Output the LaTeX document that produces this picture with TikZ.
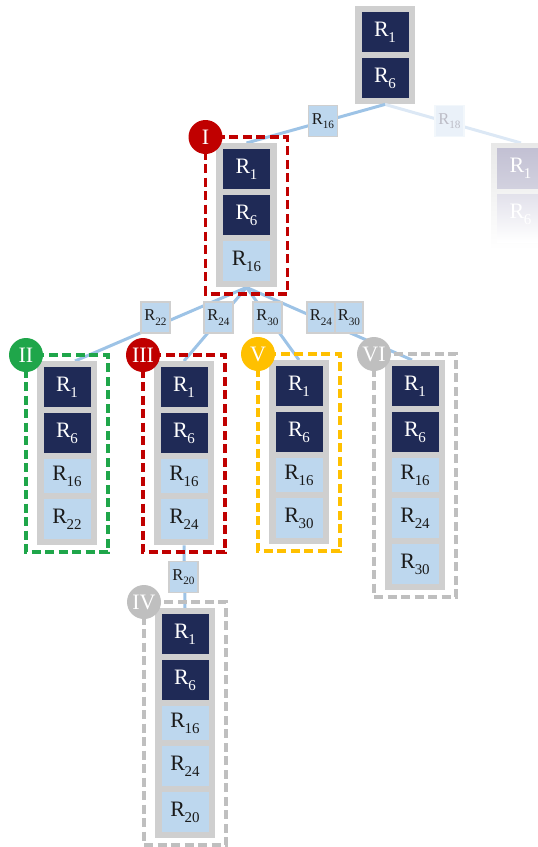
\documentclass[tikz,border=0pt]{standalone}
\usepackage{fontspec}
\setmainfont{Liberation Serif}
\usepackage{graphicx}
\definecolor{navy}{HTML}{1F2A56}
\definecolor{lblue}{HTML}{BDD7EE}
\definecolor{boxgray}{HTML}{CFCFCF}
\definecolor{edgeblue}{HTML}{9DC3E6}
\definecolor{cred}{HTML}{C00000}
\definecolor{cgreen}{HTML}{1FA64A}
\definecolor{cyellow}{HTML}{FFC000}
\definecolor{cgray}{HTML}{BFBFBF}
\definecolor{fadeline}{HTML}{DCE8F5}
\definecolor{fadelab}{HTML}{EAF1F9}
\definecolor{fadetxt}{HTML}{BCBCC6}
\definecolor{fadeA}{HTML}{C2C0D3}
\definecolor{fadeAb}{HTML}{D2D1DF}
\definecolor{fadeB}{HTML}{E2E1EB}
\definecolor{txtdark}{HTML}{1A1A1A}
\newcommand{\Rsub}[1]{R\kern-0.01em\raisebox{-0.27em}{\scalebox{0.68}{#1}}}
\begin{document}
\begin{tikzpicture}[x=1pt,y=-1pt,
  graybox/.style={fill=boxgray, minimum width=60pt, inner sep=0pt, anchor=north},
  cellD/.style={fill=navy, text=white, minimum width=47pt, minimum height=40pt, inner sep=0pt, font=\fontsize{22}{22}\selectfont},
  cellL/.style={fill=lblue, text=txtdark, minimum width=47pt, minimum height=40pt, inner sep=0pt, font=\fontsize{22}{22}\selectfont},
  cellS/.style={cellL, minimum height=34pt},
  elabel/.style={fill=lblue, draw=boxgray, line width=1.2pt, text=txtdark, minimum width=29pt, minimum height=31pt, inner sep=0pt, font=\fontsize{16.5}{16.5}\selectfont},
  edge/.style={draw=edgeblue, line width=3pt},
  dashbox/.style={line width=3.8pt, dash pattern=on 9pt off 4.5pt},
  badge/.style={circle, minimum size=34pt, inner sep=0pt, text=white, font=\fontsize{22}{22}\selectfont}
]
\useasboundingbox (0,0) rectangle (538,847);

% ---------- gray container boxes (nodes, for connectors) ----------
\node[graybox, minimum height=98pt] (g0) at (385,6) {};
\node[graybox, minimum height=144pt] (gI) at (246.5,143) {};
\node[graybox, minimum height=184pt] (gII) at (67,361) {};
\node[graybox, minimum height=184pt] (gIII) at (184,361) {};
\node[graybox, minimum height=184pt] (gV) at (299,360) {};
\node[graybox, minimum height=230pt] (gVI) at (415,360) {};
\node[graybox, minimum height=230pt] (gIV) at (185,608) {};
\coordinate (gfade) at (521,143);

% ---------- connectors ----------
\draw[draw=fadeline, line width=3pt] (g0.south) -- (gfade);
\draw[edge] (g0.south) -- (gI.north);
\draw[edge] (gI.south) -- ([xshift=8pt]gII.north);
\draw[edge] (gI.south) -- (gIII.north);
\draw[edge] (gI.south) -- (gV.north);
\draw[edge] (gI.south) -- ([xshift=-3pt]gVI.north);
\draw[edge] (gIII.south) -- (gIV.north);

% ---------- faded branch ----------
\shade[top color=black!9, bottom color=white] (491,143) rectangle (551,250);
\shade[top color=fadeA, bottom color=fadeAb] (497,148) rectangle (544,188);
\shade[top color=fadeB, bottom color=white] (497,194) rectangle (544,242);
\node[text=white, font=\fontsize{22}{22}\selectfont] (f1) at (520.5,168) {\Rsub{1}};
\node[text=white, font=\fontsize{22}{22}\selectfont] (f6) at (520.5,214) {\Rsub{6}};
\node[elabel, fill=fadelab, draw=fadelab!60!white, text=fadetxt] (e18) at (449.5,121) {\Rsub{18}};

% ---------- edge labels ----------
\node[elabel] (e16) at (323,121) {\Rsub{16}};
\node[elabel] (e22) at (155.5,317.5) {\Rsub{22}};
\node[elabel] (e24) at (218.5,317.5) {\Rsub{24}};
\node[elabel] (e30) at (267.5,317.5) {\Rsub{30}};
\node[elabel, minimum width=28pt] (e24b) at (321,317.5) {\Rsub{24}};
\node[elabel, minimum width=28pt] (e30b) at (349,317.5) {\Rsub{30}};
\node[elabel] (e20) at (183.5,577) {\Rsub{20}};

% ---------- dashed group frames ----------
\draw[dashbox, cred]    (205.5,137) rectangle (287.5,294);
\draw[dashbox, cgreen]  (26,355) rectangle (108,552);
\draw[dashbox, cred]    (143,355) rectangle (225,552);
\draw[dashbox, cyellow] (258,354) rectangle (340,551);
\draw[dashbox, cgray]   (374,354) rectangle (456,597);
\draw[dashbox, cgray]   (144,602) rectangle (226,845);

% ---------- redraw gray boxes above frames ----------
\fill[boxgray] (gI.north west) rectangle (gI.south east);
\fill[boxgray] (gII.north west) rectangle (gII.south east);
\fill[boxgray] (gIII.north west) rectangle (gIII.south east);
\fill[boxgray] (gV.north west) rectangle (gV.south east);
\fill[boxgray] (gVI.north west) rectangle (gVI.south east);
\fill[boxgray] (gIV.north west) rectangle (gIV.south east);

% ---------- cells ----------
% top
\node[cellD] (t1) at (385,32) {\Rsub{1}};
\node[cellD] (t6) at (385,78) {\Rsub{6}};
% I
\node[cellD] (a1) at (246.5,169) {\Rsub{1}};
\node[cellD] (a6) at (246.5,215) {\Rsub{6}};
\node[cellL] (a16) at (246.5,261) {\Rsub{16}};
% II
\node[cellD] (b1) at (67,387) {\Rsub{1}};
\node[cellD] (b6) at (67,433) {\Rsub{6}};
\node[cellS] (b16) at (67,476) {\Rsub{16}};
\node[cellL] (b22) at (67,519) {\Rsub{22}};
% III
\node[cellD] (c1) at (184,387) {\Rsub{1}};
\node[cellD] (c6) at (184,433) {\Rsub{6}};
\node[cellS] (c16) at (184,476) {\Rsub{16}};
\node[cellL] (c24) at (184,519) {\Rsub{24}};
% V
\node[cellD] (d1) at (299,386) {\Rsub{1}};
\node[cellD] (d6) at (299,432) {\Rsub{6}};
\node[cellS] (d16) at (299,475) {\Rsub{16}};
\node[cellL] (d30) at (299,518) {\Rsub{30}};
% VI
\node[cellD] (v1) at (415,386) {\Rsub{1}};
\node[cellD] (v6) at (415,432) {\Rsub{6}};
\node[cellS] (v16) at (415,475) {\Rsub{16}};
\node[cellL] (v24) at (415,518) {\Rsub{24}};
\node[cellL] (v30) at (415,564) {\Rsub{30}};
% IV
\node[cellD] (w1) at (185,634) {\Rsub{1}};
\node[cellD] (w6) at (185,680) {\Rsub{6}};
\node[cellS] (w16) at (185,723) {\Rsub{16}};
\node[cellL] (w24) at (185,766) {\Rsub{24}};
\node[cellL] (w20) at (185,812) {\Rsub{20}};

% ---------- badges ----------
\node[badge, fill=cred]    (bI)   at (205.5,137) {I};
\node[badge, fill=cgreen]  (bII)  at (26,355) {II};
\node[badge, fill=cred]    (bIII) at (143,355) {III};
\node[badge, fill=cyellow] (bV)   at (258,354) {V};
\node[badge, fill=cgray]   (bVI)  at (374,354) {VI};
\node[badge, fill=cgray]   (bIV)  at (144,602) {IV};
\end{tikzpicture}
\end{document}
